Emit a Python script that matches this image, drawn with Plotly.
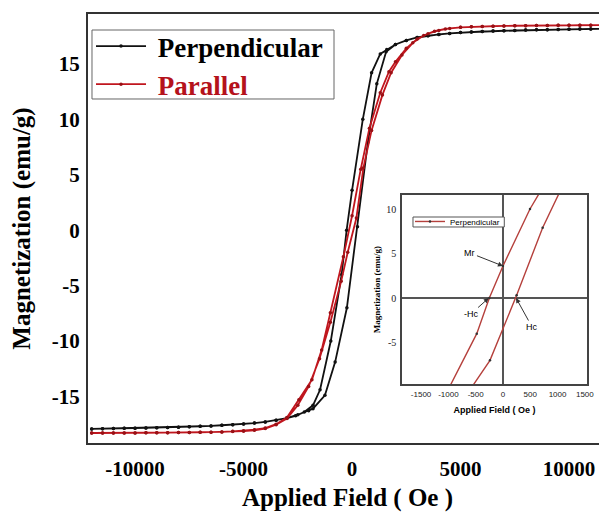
import plotly.graph_objects as go

# ---------------- data ----------------
# Perpendicular: descending branch (+H -> -H)
perp_down_H = [12000, 11500, 11000, 10500, 10000, 9500, 9000, 8500, 8000, 7500, 7000,
               6500, 6000, 5500, 5000, 4500, 4000, 3500, 3000, 2500, 2000, 1600, 1300,
               900, 495, 0, -250, -480, -980, -1475, -1800, -2200, -2600, -3000, -3500,
               -4000, -4500, -5000, -5500, -6000, -6500, -7000, -7500, -8000, -8500,
               -9000, -9500, -10000, -10500, -11000, -11500, -12000]
perp_down_M = [18.17, 18.16, 18.15, 18.14, 18.12, 18.11, 18.09, 18.07, 18.05, 18.02, 17.99,
               17.96, 17.92, 17.87, 17.82, 17.75, 17.66, 17.54, 17.38, 17.12, 16.75, 16.3, 15.9,
               14.2, 10.0, 3.6, 0.0, -4.0, -10.0, -14.4, -15.8, -16.4, -16.75, -16.95, -17.15,
               -17.3, -17.4, -17.48, -17.55, -17.6, -17.66, -17.7, -17.74, -17.77, -17.8,
               -17.82, -17.84, -17.86, -17.88, -17.9, -17.92, -17.93]
# Perpendicular: ascending branch (-H -> +H)
perp_up_H = [-12000, -11500, -11000, -10500, -10000, -9500, -9000, -8500, -8000, -7500,
             -7000, -6500, -6000, -5500, -5000, -4500, -4000, -3500, -3000, -2500, -2000,
             -1800, -1250, -780, -238, 250, 727, 1140, 1570, 2000, 2500, 3000, 3500, 4000,
             4500, 5000, 5500, 6000, 6500, 7000, 7500, 8000, 8500, 9000, 9500, 10000,
             10500, 11000, 11500, 12000]
perp_up_M = [-17.93, -17.92, -17.9, -17.88, -17.86, -17.84, -17.82, -17.8, -17.77, -17.74,
             -17.7, -17.66, -17.6, -17.55, -17.48, -17.4, -17.3, -17.15, -16.95, -16.65, -16.3,
             -16.1, -14.9, -11.9, -7.0, 0.3, 7.9, 13.2, 16.1, 16.75, 17.12, 17.38, 17.54, 17.66,
             17.75, 17.82, 17.87, 17.92, 17.96, 17.99, 18.02, 18.05, 18.07, 18.09, 18.11, 18.12,
             18.14, 18.15, 18.16, 18.17]

# Parallel: descending branch
par_down_H = [12000, 11500, 11000, 10500, 10000, 9500, 9000, 8500, 8000, 7500, 7000,
              6500, 6000, 5500, 5000, 4500, 4000, 3500, 3000, 2500, 2000, 1700, 1300, 800,
              400, 0, -400, -1000, -1400, -1850, -2450, -3000, -3500, -4000, -4500, -5000,
              -5500, -6000, -6500, -7000, -7500, -8000, -8500, -9000, -9500, -10000,
              -10500, -11000, -11500, -12000]
par_down_M = [18.5, 18.5, 18.49, 18.49, 18.48, 18.48, 18.47, 18.46, 18.45, 18.44, 18.42,
              18.4, 18.38, 18.35, 18.3, 18.2, 18.02, 17.72, 17.25, 16.4, 15.2, 14.3, 12.4, 9.2,
              5.5, 1.3, -2.4, -7.45, -10.8, -13.5, -15.3, -16.9, -17.5, -17.85, -18.0, -18.1,
              -18.15, -18.2, -18.22, -18.24, -18.25, -18.26, -18.27, -18.28, -18.28, -18.29,
              -18.29, -18.3, -18.3, -18.3]
# Parallel: ascending branch
par_up_H = [-12000, -11500, -11000, -10500, -10000, -9500, -9000, -8500, -8000, -7500,
            -7000, -6500, -6000, -5500, -5000, -4500, -4000, -3500, -3000, -2500, -2000,
            -1500, -1000, -500, -200, 200, 520, 900, 1400, 1800, 2300, 2800, 3300, 3800,
            4300, 5000, 5500, 6000, 6500, 7000, 7500, 8000, 8500, 9000, 9500, 10000,
            10500, 11000, 11500, 12000]
par_up_M = [-18.3, -18.3, -18.3, -18.29, -18.29, -18.28, -18.28, -18.27, -18.26, -18.25,
            -18.24, -18.22, -18.2, -18.17, -18.13, -18.05, -17.9, -17.55, -17.0, -15.8, -14.1,
            -11.6, -8.3, -4.6, -2.0, 1.1, 5.6, 9.0, 12.2, 14.2, 15.8, 16.9, 17.55, 17.95,
            18.15, 18.3, 18.35, 18.38, 18.4, 18.42, 18.44, 18.45, 18.46, 18.47, 18.48, 18.48,
            18.49, 18.49, 18.5, 18.5]

x_ticks_main = [-10000, -5000, 0, 5000, 10000]
x_ticktext_main = ["-10000", "-5000", "0", "5000", "10000"]
y_ticks_main = [-15, -10, -5, 0, 5, 10, 15]
y_ticktext_main = ["-15", "-10", "-5", "0", "5", "10", "15"]
x_ticks_inset = [-1500, -1000, -500, 0, 500, 1000, 1500]
x_ticktext_inset = ["-1500", "-1000", "-500", "0", "500", "1000", "1500"]
y_ticks_inset = [-5, 0, 5, 10]
y_ticktext_inset = ["-5", "0", "5", "10"]

BLACK = "#111111"
RED = "#c0161e"
INSET_RED = "#b5403c"
SERIF = "Liberation Serif"
SANS = "Liberation Sans"
NB = "\u00a0"

fig = go.Figure()

fig.add_trace(go.Scatter(
    x=perp_down_H + perp_up_H, y=perp_down_M + perp_up_M,
    mode="lines+markers", name=NB + "<b>Perpendicular</b>",
    line=dict(color=BLACK, width=1.8), marker=dict(color=BLACK, size=3.5),
    legend="legend"))
fig.add_trace(go.Scatter(
    x=par_down_H + par_up_H, y=par_down_M + par_up_M,
    mode="lines+markers", name=NB + "<b><span style='color:#b5121b'>Parallel</span></b>",
    line=dict(color=RED, width=1.8), marker=dict(color="#9a1015", size=3.5),
    legend="legend"))

# inset
fig.add_trace(go.Scatter(
    x=perp_down_H + perp_up_H, y=perp_down_M + perp_up_M,
    xaxis="x2", yaxis="y2",
    mode="lines+markers", name="Perpendicular",
    line=dict(color=INSET_RED, width=1.4), marker=dict(color="#333333", size=2.5),
    legend="legend2"))

# (page body has an 8px margin; the figure is sized to compensate)
fig.update_layout(
    width=599, height=504,
    margin=dict(l=80, r=0, t=6, b=69),
    plot_bgcolor="white", paper_bgcolor="white",
    xaxis=dict(
        range=[-12170, 11750], tickvals=x_ticks_main, ticktext=x_ticktext_main,
        showgrid=False, zeroline=False, automargin=False,
        showline=True, linecolor="#333333", linewidth=2, mirror=True,
        ticks="outside", ticklen=6, tickcolor="rgba(0,0,0,0)",
        tickfont=dict(family=SERIF, size=21, color="black", weight="bold"),
        title=dict(text="<b>Applied Field ( Oe )</b>", standoff=16,
                   font=dict(family=SERIF, size=25, color="black")),
    ),
    yaxis=dict(
        range=[-19.2, 19.5], tickvals=y_ticks_main, ticktext=y_ticktext_main,
        showgrid=False, zeroline=False, automargin=False,
        showline=True, linecolor="#333333", linewidth=2, mirror=False,
        ticks="outside", ticklen=2, tickcolor="rgba(0,0,0,0)",
        tickfont=dict(family=SERIF, size=21, color="black", weight="bold"),
        title=dict(text="<b>Magnetization (emu/g)</b>", standoff=19,
                   font=dict(family=SERIF, size=25, color="black")),
    ),
    xaxis2=dict(
        domain=[0.605, 0.9615], anchor="y2",
        range=[-1850, 1540], tickvals=x_ticks_inset, ticktext=x_ticktext_inset,
        showgrid=False, zeroline=True, zerolinecolor="#555555", zerolinewidth=1.5,
        showline=True, linecolor="#444444", linewidth=1.5, mirror=True,
        automargin=False, tickangle=0,
        ticks="outside", ticklen=2, tickcolor="rgba(0,0,0,0)",
        tickfont=dict(family=SANS, size=8, color="#222222"),
        title=dict(text="<b>Applied Field ( Oe )</b>", standoff=8,
                   font=dict(family=SANS, size=9, color="black")),
    ),
    yaxis2=dict(
        domain=[0.1375, 0.578], anchor="x2",
        range=[-9.66, 11.57], tickvals=y_ticks_inset, ticktext=y_ticktext_inset,
        showgrid=False, zeroline=True, zerolinecolor="#555555", zerolinewidth=1.5,
        showline=True, linecolor="#444444", linewidth=1.5, mirror=True,
        automargin=False,
        ticks="outside", ticklen=2, tickcolor="rgba(0,0,0,0)",
        tickfont=dict(family=SERIF, size=10, color="#222222"),
        title=dict(text="<b>Magnetization (emu/g)</b>", standoff=4,
                   font=dict(family=SERIF, size=9, color="black")),
    ),
    legend=dict(
        x=0.0058, y=0.9814, xanchor="left", yanchor="top",
        borderwidth=0, bgcolor="rgba(0,0,0,0)",
        font=dict(family=SERIF, size=27, color="black"),
        itemwidth=50, tracegroupgap=0,
    ),
    legend2=dict(
        x=0.6204, y=0.5502, xanchor="left", yanchor="top",
        borderwidth=0, bgcolor="rgba(0,0,0,0)",
        font=dict(family=SANS, size=8, color="black"),
        itemwidth=30,
    ),
    showlegend=True,
    shapes=[
        dict(type="rect", xref="paper", yref="paper", x0=0.0077, x1=0.474,
             y0=0.8019, y1=0.9627, line=dict(color="#666666", width=1),
             fillcolor="white", layer="below"),
        dict(type="rect", xref="paper", yref="paper", x0=0.6262, x1=0.8021,
             y0=0.5035, y1=0.5268, line=dict(color="#555555", width=1),
             fillcolor="white", layer="above"),
    ],
)

arrow = dict(xref="x2", yref="y2", showarrow=True, arrowhead=2, arrowsize=1,
             arrowwidth=1, arrowcolor="#333333",
             font=dict(family=SANS, size=9, color="black"))
fig.add_annotation(x=0, y=3.6, text="Mr", ax=-33, ay=-13, **arrow)
fig.add_annotation(x=-260, y=0, text="-Hc", ax=-18, ay=16, **arrow)
fig.add_annotation(x=240, y=0, text="Hc", ax=16, ay=29, **arrow)

fig.write_html("out.html")
